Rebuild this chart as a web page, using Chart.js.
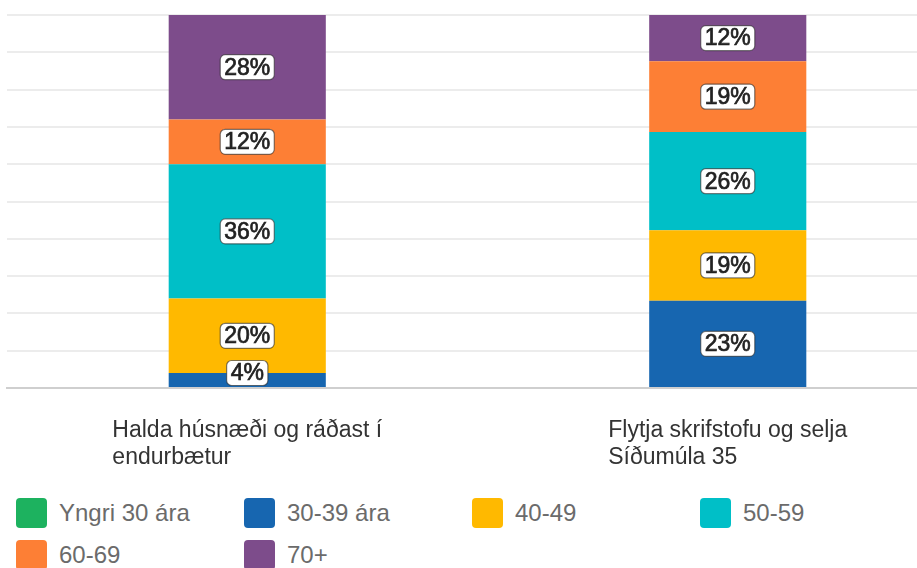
<!DOCTYPE html>
<html>
<head>
<meta charset="utf-8">
<script src="https://cdn.jsdelivr.net/npm/chart.js@4"></script>
<style>
  html, body { margin: 0; padding: 0; background: #fff; }
  #wrap { position: relative; width: 917px; height: 568px; overflow: hidden; }
  #chart-box { position: absolute; left: 0; top: 0; width: 975px; height: 480px; }
  .lg-item { position: absolute; display: flex; align-items: center; height: 30px;
             font: 24px "Liberation Sans", Arial, sans-serif; color: #6b6b6b; white-space: nowrap; }
  .lg-box { width: 31px; height: 30px; border-radius: 4px; margin-right: 12px; }
</style>
</head>
<body>
<div id="wrap">
  <div id="chart-box"><canvas id="chart"></canvas></div>
  <div id="legend"></div>
</div>
<script>
// --- Data ---
const categories = [
    ['Halda húsnæði og ráðast í', 'endurbætur'],
    ['Flytja skrifstofu og selja', 'Síðumúla 35']
];
const seriesNames = ['Yngri 30 ára', '30-39 ára', '40-49', '50-59', '60-69', '70+'];
const seriesColors = ['#1db25f', '#1766b0', '#ffb900', '#00bfc7', '#fd7f35', '#7d4c8b'];
const under30 = [0, 0];
const age30to39 = [4, 23.4];
const age40to49 = [20, 18.9];
const age50to59 = [36, 26.3];
const age60to69 = [12, 19.0];
const age70plus = [28, 12.4];
const seriesValues = [under30, age30to39, age40to49, age50to59, age60to69, age70plus];
const yTicks = { min: 0, max: 100, step: 10 };

// --- Value labels (white boxes) ---
const valueLabels = {
    id: 'valueLabels',
    afterDatasetsDraw(chart) {
        const ctx = chart.ctx;
        const bottom = chart.chartArea.bottom;
        ctx.save();
        ctx.font = '23px "Liberation Sans", Arial, sans-serif';
        ctx.textAlign = 'center';
        ctx.textBaseline = 'middle';
        chart.data.datasets.forEach((ds, di) => {
            chart.getDatasetMeta(di).data.forEach((bar, i) => {
                const v = ds.data[i];
                if (!v) return;
                const txt = Math.round(v) + '%';
                const y = Math.min((bar.y + bar.base) / 2, bottom - 15);
                const w = ctx.measureText(txt).width + 8;
                const h = 25;
                ctx.fillStyle = '#fff';
                ctx.strokeStyle = 'rgba(40,40,40,0.6)';
                ctx.lineWidth = 1.2;
                ctx.beginPath();
                ctx.roundRect(bar.x - w / 2, y - h / 2, w, h, 5);
                ctx.fill();
                ctx.stroke();
                ctx.fillStyle = '#222';
                ctx.strokeStyle = '#222';
                ctx.lineWidth = 0.7;
                ctx.fillText(txt, bar.x, y + 1);
                ctx.strokeText(txt, bar.x, y + 1);
            });
        });
        ctx.restore();
    }
};

// --- Category labels (block centred, lines left aligned) ---
const categoryLabels = {
    id: 'categoryLabels',
    afterDraw(chart) {
        const ctx = chart.ctx;
        const xs = chart.scales.x;
        const base = chart.chartArea.bottom;
        ctx.save();
        ctx.font = '23px "Liberation Sans", Arial, sans-serif';
        ctx.fillStyle = '#333';
        ctx.textAlign = 'left';
        ctx.textBaseline = 'alphabetic';
        categories.forEach((lines, i) => {
            const cx = xs.getPixelForValue(i);
            const maxW = Math.max(...lines.map(l => ctx.measureText(l).width));
            lines.forEach((l, j) => ctx.fillText(l, cx - maxW / 2, base + 49 + j * 27));
        });
        ctx.restore();
    }
};

new Chart(document.getElementById('chart'), {
    type: 'bar',
    data: {
        labels: categories,
        datasets: seriesNames.map((name, i) => ({
            label: name,
            data: seriesValues[i],
            backgroundColor: seriesColors[i],
            borderWidth: 0,
            barPercentage: 0.327,
            categoryPercentage: 1
        }))
    },
    options: {
        responsive: true,
        maintainAspectRatio: false,
        animation: false,
        layout: { padding: { left: 7, right: 7, top: 15, bottom: 92 } },
        plugins: { legend: { display: false }, tooltip: { enabled: false } },
        scales: {
            x: {
                stacked: true,
                grid: { display: false, drawTicks: false },
                border: { color: '#cfcfcf', width: 2 },
                ticks: { display: false }
            },
            y: {
                stacked: true,
                min: yTicks.min,
                max: yTicks.max,
                grid: { color: '#ececec', lineWidth: 2, drawTicks: false },
                border: { display: false },
                ticks: { display: false, stepSize: yTicks.step }
            }
        }
    },
    plugins: [valueLabels, categoryLabels]
});

// --- Legend ---
const legend = document.getElementById('legend');
seriesNames.forEach((name, i) => {
    const col = i % 4, row = Math.floor(i / 4);
    const item = document.createElement('div');
    item.className = 'lg-item';
    item.style.left = (16 + col * 228) + 'px';
    item.style.top = (498 + row * 42) + 'px';
    item.innerHTML = `<span class="lg-box" style="background:${seriesColors[i]}"></span>${name}`;
    legend.appendChild(item);
});
</script>
</body>
</html>
